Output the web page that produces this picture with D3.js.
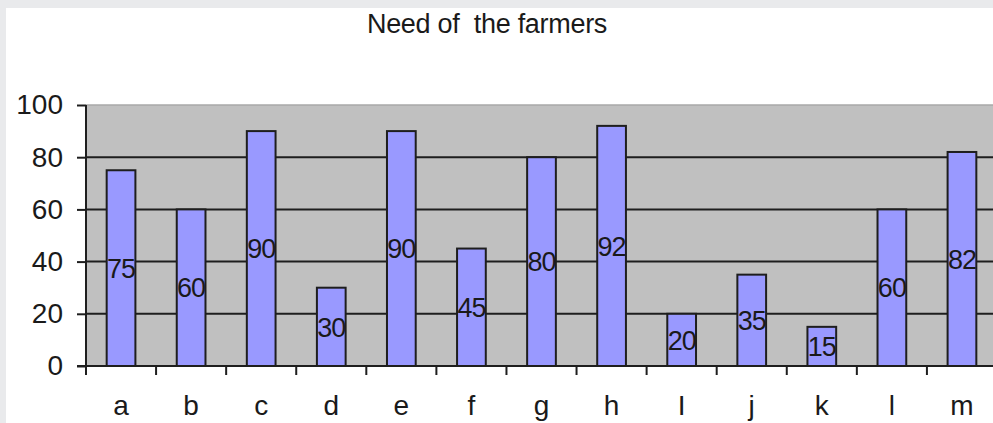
<!DOCTYPE html>
<html lang="en">
<head>
  <meta charset="UTF-8">
  <title>Need of the farmers</title>
  <script src="https://d3js.org/d3.v7.min.js"></script>
  <style>
    html, body {
      margin: 0;
      background: #e9eaec;
    }
    svg {
      display: block;
    }
    text {
      font-family: "Liberation Sans", Arial, sans-serif;
      fill: #1a1a1a;
    }
  </style>
</head>
<body>
  <svg width="993" height="423"></svg>
  <script>
    // chart data
    const categories = ["a", "b", "c", "d", "e", "f", "g", "h", "I", "j", "k", "l", "m"];
    const values = [75, 60, 90, 30, 90, 45, 80, 92, 20, 35, 15, 60, 82];
    const yTicks = [0, 20, 40, 60, 80, 100];
    const title = "Need of\u00a0 the farmers";

    const svg = d3.select("svg");

    // white chart panel
    svg.append("rect")
      .attr("x", 6).attr("y", 8)
      .attr("width", 993).attr("height", 423)
      .attr("fill", "#fff");

    const x = d3.scaleBand()
      .domain(d3.range(categories.length))
      .range([86, 997]);

    const y = d3.scaleLinear()
      .domain([0, 100])
      .range([366, 105]);

    // plot area
    svg.append("rect")
      .attr("x", x.range()[0]).attr("y", y(100))
      .attr("width", x.range()[1] - x.range()[0])
      .attr("height", y(0) - y(100))
      .attr("fill", "#c0c0c0");

    svg.append("line")
      .attr("x1", x.range()[0]).attr("x2", x.range()[1])
      .attr("y1", y(100)).attr("y2", y(100))
      .attr("stroke", "#a8a8a8").attr("stroke-width", 1.5);

    // grid lines
    svg.append("g")
      .selectAll("line")
      .data(yTicks.filter(d => d > 0 && d < 100))
      .enter().append("line")
      .attr("x1", x.range()[0]).attr("x2", x.range()[1])
      .attr("y1", d => y(d)).attr("y2", d => y(d))
      .attr("stroke", "#1e1e1e").attr("stroke-width", 2);

    // bars
    const barW = x.bandwidth() * 0.41;
    svg.append("g")
      .selectAll("rect")
      .data(values)
      .enter().append("rect")
      .attr("x", (d, i) => x(i) + (x.bandwidth() - barW) / 2)
      .attr("y", d => y(d))
      .attr("width", barW)
      .attr("height", d => y(0) - y(d))
      .attr("fill", "#9999ff")
      .attr("stroke", "#1e1e1e")
      .attr("stroke-width", 2);

    // value labels, centred in the bar
    svg.append("g")
      .selectAll("text")
      .data(values)
      .enter().append("text")
      .attr("x", (d, i) => x(i) + x.bandwidth() / 2)
      .attr("y", d => (y(d) + y(0)) / 2)
      .attr("dy", "0.36em")
      .attr("text-anchor", "middle")
      .attr("font-size", 27)
      .attr("letter-spacing", -1)
      .text(d => d);

    // y axis
    const yAxis = svg.append("g")
      .attr("transform", `translate(${x.range()[0]},0)`)
      .call(d3.axisLeft(y).tickValues(yTicks).tickSize(9).tickPadding(14));
    yAxis.select(".domain").attr("stroke", "#1e1e1e").attr("stroke-width", 2)
      .attr("d", `M0,${y(100)}V${y(0) + 9}`);
    yAxis.selectAll(".tick line").attr("stroke", "#1e1e1e").attr("stroke-width", 2);
    yAxis.selectAll(".tick text")
      .attr("font-size", 28)
      .attr("font-family", "Liberation Sans, Arial, sans-serif")
      .attr("fill", "#1a1a1a");

    // x axis, ticks on band edges
    const xAxis = svg.append("g")
      .attr("transform", `translate(0,${y(0)})`);
    xAxis.append("line")
      .attr("x1", x.range()[0] - 9).attr("x2", x.range()[1])
      .attr("stroke", "#1e1e1e").attr("stroke-width", 2);
    xAxis.selectAll("line.tick")
      .data(d3.range(1, categories.length))
      .enter().append("line")
      .attr("class", "tick")
      .attr("x1", i => x(i)).attr("x2", i => x(i))
      .attr("y1", 0).attr("y2", 9)
      .attr("stroke", "#1e1e1e").attr("stroke-width", 2);
    xAxis.selectAll("text")
      .data(categories)
      .enter().append("text")
      .attr("x", (d, i) => x(i) + x.bandwidth() / 2)
      .attr("y", 49)
      .attr("text-anchor", "middle")
      .attr("font-size", 28)
      .text(d => d);

    // title
    svg.append("text")
      .attr("x", 487)
      .attr("y", 33)
      .attr("text-anchor", "middle")
      .attr("font-size", 27)
      .attr("letter-spacing", -0.3)
      .text(title);
  </script>
</body>
</html>
